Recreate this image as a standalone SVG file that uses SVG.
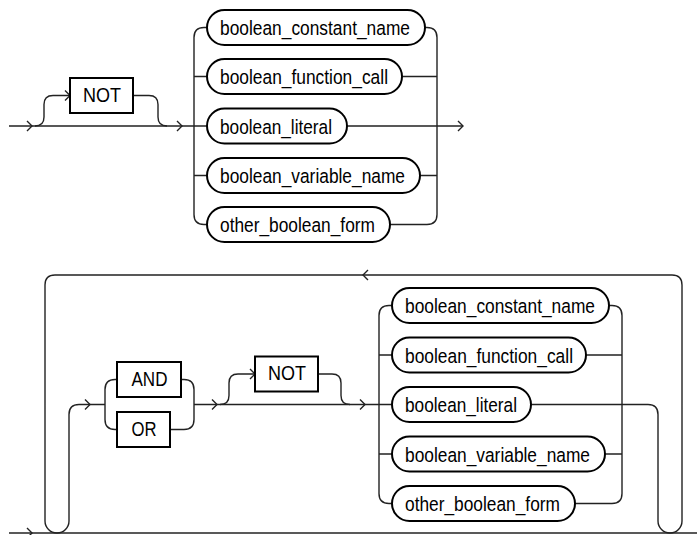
<svg xmlns="http://www.w3.org/2000/svg" xmlns:xlink="http://www.w3.org/1999/xlink" width="697" height="535" viewBox="0 0 697 535">
<style>
.ln{fill:none;stroke:#222;stroke-width:1.4}
.ar{fill:none;stroke:#222;stroke-width:1.4}
.box{fill:#fff;stroke:#000;stroke-width:2}
.t{font-family:"Liberation Sans",Arial,sans-serif;font-size:20.5px;fill:#000}
</style>
<defs>
<path id="ar" class="ar" d="M-5,-5 L0,0 L-5,5"/>
<path id="al" class="ar" d="M5,-5 L0,0 L5,5"/>
</defs>
<rect width="697" height="535" fill="#fff"/>
<g id="connectors">
<path class="ln" d="M9,126 H207 M347,126 H463"/>
<path class="ln" d="M35,126 Q44,126 44,117 V104.5 Q44,95.5 53,95.5 H70"/>
<path class="ln" d="M133,95.5 H149 Q158,95.5 158,104.5 V117 Q158,126 167,126"/>
<path class="ln" d="M207,27.5 H204 Q194,27.5 194,37.5 V214.5 Q194,224.5 204,224.5 H207 M194,76.5 H207 M194,175.5 H207"/>
<path class="ln" d="M425,27.5 H427 Q437,27.5 437,37.5 V214.5 Q437,224.5 427,224.5 H390 M402,76.5 H437 M420,175.5 H437"/>
<use href="#ar" x="32" y="126"/>
<use href="#ar" x="70" y="95.5"/>
<use href="#ar" x="182" y="126"/>
<use href="#ar" x="463" y="126"/>
<path class="ln" d="M9,533 H697"/>
<path class="ln" d="M531,404.5 H648 Q658,404.5 658,414.5 V521 A12,12 0 0 0 682,521 V285 Q682,275 672,275 H55 Q45,275 45,285 V521 A12,12 0 0 0 69,521 V414.5 Q69,404.5 79,404.5 H105"/>
<path class="ln" d="M117,379.5 H115 Q105,379.5 105,389.5 V419.5 Q105,429.5 115,429.5 H117"/>
<path class="ln" d="M181,379.5 H184 Q194,379.5 194,389.5 V419.5 Q194,429.5 184,429.5 H170"/>
<path class="ln" d="M194,404.5 H392"/>
<path class="ln" d="M220,404.5 Q229,404.5 229,395.5 V383 Q229,374 238,374 H255"/>
<path class="ln" d="M318,374 H332 Q341,374 341,383 V395.5 Q341,404.5 350,404.5"/>
<path class="ln" d="M392,305.5 H389 Q379,305.5 379,315.5 V493.5 Q379,503.5 389,503.5 H392 M379,355 H392 M379,454 H392"/>
<path class="ln" d="M609,305.5 H612 Q622,305.5 622,315.5 V493.5 Q622,503.5 612,503.5 H575 M586,355 H622 M605,454 H622"/>
<use href="#ar" x="32" y="533"/>
<use href="#ar" x="90" y="404.5"/>
<use href="#ar" x="217" y="404.5"/>
<use href="#ar" x="255" y="374"/>
<use href="#ar" x="365" y="404.5"/>
<use href="#al" x="363" y="275"/>
</g>
<g id="not1"><rect class="box" x="70" y="78" width="63" height="35"/><text class="t" x="83" y="101.5" textLength="38" lengthAdjust="spacingAndGlyphs">NOT</text></g>
<g id="bcn1"><rect class="box" x="207" y="10" width="218" height="35" rx="17.5"/><text class="t" x="220" y="35" textLength="190" lengthAdjust="spacingAndGlyphs">boolean_constant_name</text></g>
<g id="bfc1"><rect class="box" x="207" y="59" width="195" height="35" rx="17.5"/><text class="t" x="220" y="84" textLength="168" lengthAdjust="spacingAndGlyphs">boolean_function_call</text></g>
<g id="bl1"><rect class="box" x="207" y="108.5" width="140" height="35" rx="17.5"/><text class="t" x="220" y="133.5" textLength="112" lengthAdjust="spacingAndGlyphs">boolean_literal</text></g>
<g id="bvn1"><rect class="box" x="207" y="158" width="213" height="35" rx="17.5"/><text class="t" x="220" y="183" textLength="185" lengthAdjust="spacingAndGlyphs">boolean_variable_name</text></g>
<g id="obf1"><rect class="box" x="207" y="207" width="183" height="35" rx="17.5"/><text class="t" x="220" y="232" textLength="155" lengthAdjust="spacingAndGlyphs">other_boolean_form</text></g>
<g id="and"><rect class="box" x="117" y="362" width="64" height="35"/><text class="t" x="131.5" y="386" textLength="36" lengthAdjust="spacingAndGlyphs">AND</text></g>
<g id="or"><rect class="box" x="117" y="412" width="53" height="35"/><text class="t" x="131.5" y="436" textLength="25" lengthAdjust="spacingAndGlyphs">OR</text></g>
<g id="not2"><rect class="box" x="255" y="356.5" width="63" height="35"/><text class="t" x="268" y="380" textLength="38" lengthAdjust="spacingAndGlyphs">NOT</text></g>
<g id="bcn2"><rect class="box" x="392" y="288" width="217" height="35" rx="17.5"/><text class="t" x="405" y="313" textLength="190" lengthAdjust="spacingAndGlyphs">boolean_constant_name</text></g>
<g id="bfc2"><rect class="box" x="392" y="337.5" width="194" height="35" rx="17.5"/><text class="t" x="405" y="362.5" textLength="168" lengthAdjust="spacingAndGlyphs">boolean_function_call</text></g>
<g id="bl2"><rect class="box" x="392" y="387" width="139" height="35" rx="17.5"/><text class="t" x="405" y="412" textLength="112" lengthAdjust="spacingAndGlyphs">boolean_literal</text></g>
<g id="bvn2"><rect class="box" x="392" y="436.5" width="213" height="35" rx="17.5"/><text class="t" x="405" y="461.5" textLength="185" lengthAdjust="spacingAndGlyphs">boolean_variable_name</text></g>
<g id="obf2"><rect class="box" x="392" y="486" width="183" height="35" rx="17.5"/><text class="t" x="405" y="511" textLength="155" lengthAdjust="spacingAndGlyphs">other_boolean_form</text></g>
</svg>
